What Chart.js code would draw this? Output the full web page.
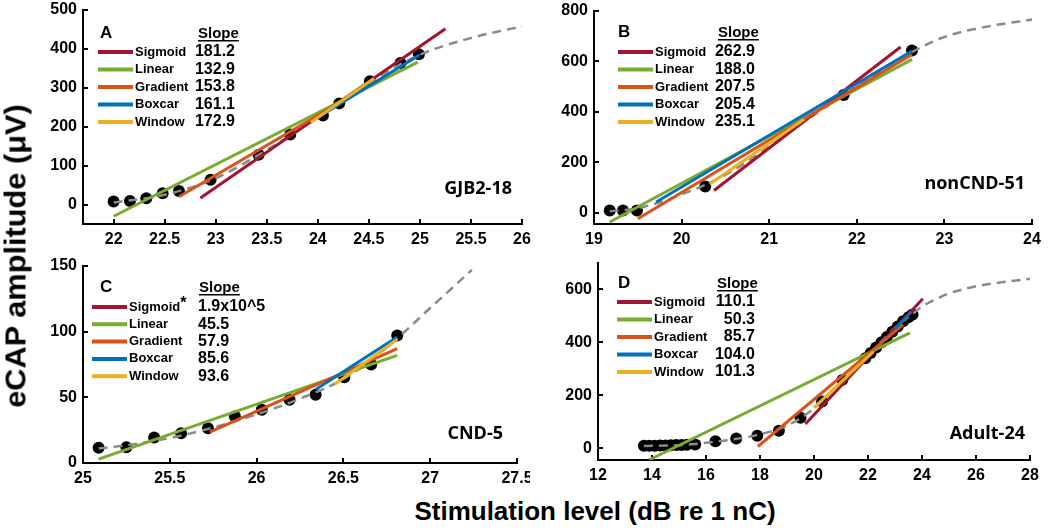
<!DOCTYPE html>
<html>
<head>
<meta charset="utf-8">
<script src="https://cdn.jsdelivr.net/npm/chart.js@4.4.0/dist/chart.umd.min.js"></script>
<style>
body{margin:0;background:#fff;width:1050px;height:530px;overflow:hidden;position:relative;font-family:"Liberation Sans",Arial,sans-serif}
canvas{position:absolute}
#ytitle{position:absolute;left:16px;top:256px;font-weight:bold;font-size:29px;white-space:nowrap;transform:translate(-50%,-50%) rotate(-90deg) scaleX(1.06)}
#xtitle{position:absolute;left:595px;top:498px;font-weight:bold;font-size:26px;line-height:26px;white-space:nowrap;transform:translateX(-50%)}
</style>
</head>
<body>
<canvas id="panelA" width="512" height="254" style="left:20px;top:0px"></canvas>
<canvas id="panelB" width="520" height="254" style="left:530px;top:0px"></canvas>
<canvas id="panelC" width="510" height="237" style="left:20px;top:256px"></canvas>
<canvas id="panelD" width="520" height="234" style="left:530px;top:256px"></canvas>
<div id="ytitle">eCAP amplitude (μV)</div>
<div id="xtitle">Stimulation level (dB re 1 nC)</div>
<script>
var methods = ['Sigmoid', 'Linear', 'Gradient', 'Boxcar', 'Window'];
var methodColors = ['#A2142F', '#77AC30', '#D95319', '#0072BD', '#EDB120'];

// A - GJB2-18
var levelA = [22.0, 22.16, 22.32, 22.48, 22.64, 22.95, 23.42, 23.73, 24.05, 24.21, 24.51, 24.81, 24.99];
var ampA = [8, 9, 16, 29, 35, 64, 128, 180, 229, 260, 317, 364, 386];
var curveLevelA = [22.0, 22.5, 23.0, 23.5, 24.0, 24.5, 25.0, 25.5, 26.0];
var curveAmpA = [5, 25, 68, 140, 224, 312, 385, 428, 458];
// fit segments: [start level, start amp, end level, end amp]
var fitsA = [[22.85, 17, 25.25, 452], [22.0, -30, 24.98, 366], [22.64, 20, 24.5, 306], [24.0, 224, 25.0, 385], [23.93, 211, 24.55, 324]];
var slopesA = ['181.2', '132.9', '153.8', '161.1', '172.9'];
var xTicksA = [22, 22.5, 23, 23.5, 24, 24.5, 25, 25.5, 26];
var yTicksA = [0, 100, 200, 300, 400, 500];

// B - nonCND-51
var levelB = [19.18, 19.33, 19.49, 20.27, 21.85, 22.63];
var ampB = [9, 9, 9, 104, 467, 643];
var curveLevelB = [19.18, 19.5, 20.0, 20.5, 21.0, 21.5, 22.0, 22.5, 23.0, 23.5, 24.0];
var curveAmpB = [6, 18, 72, 150, 262, 385, 500, 612, 697, 739, 766];
var fitsB = [[20.37, 88, 22.5, 657], [19.18, -37, 22.63, 608], [19.5, -24, 22.63, 628], [19.71, 42, 22.63, 641], [20.32, 114, 21.4, 371]];
var slopesB = ['262.9', '188.0', '207.5', '205.4', '235.1'];
var xTicksB = [19, 20, 21, 22, 23, 24];
var yTicksB = [0, 200, 400, 600, 800];

// C - CND-5
var levelC = [25.09, 25.25, 25.41, 25.565, 25.72, 25.875, 26.03, 26.19, 26.34, 26.505, 26.66, 26.81];
var ampC = [11.7, 12, 19.4, 22.7, 26.5, 35.5, 40.6, 48.2, 52, 65.3, 75, 97];
var curveLevelC = [25.09, 25.25, 25.5, 25.75, 26.0, 26.25, 26.5, 26.75, 27.0, 27.24];
var curveAmpC = [11, 13.5, 19, 27, 37, 49, 64, 88, 118, 147];
var fitsC = [null, [25.09, 3, 26.81, 82], [25.73, 23.5, 26.81, 87], [26.34, 56, 26.81, 96], [26.45, 60, 26.81, 94]];
var slopesC = ['1.9x10^5', '45.5', '57.9', '85.6', '93.6'];
var xTicksC = [25, 25.5, 26, 26.5, 27, 27.5];
var yTicksC = [0, 50, 100, 150];

// D - Adult-24
var levelD = [13.7, 13.9, 14.1, 14.3, 14.5, 14.7, 14.9, 15.1, 15.3, 15.6, 16.35, 17.12, 17.9, 18.7, 19.5, 20.3, 21.05, 21.9, 22.1, 22.3, 22.5, 22.7, 22.9, 23.1, 23.3, 23.5, 23.65];
var ampD = [9, 9, 9, 10, 10, 11, 12, 12, 13, 14, 26, 36, 47, 66, 115, 176, 258, 340, 360, 380, 400, 420, 440, 460, 480, 495, 505];
var curveLevelD = [13.7, 15, 16, 17, 18, 19, 20, 21, 22, 23, 23.7, 24, 24.5, 25, 25.5, 26, 27, 28];
var curveAmpD = [8, 11, 20, 33, 52, 85, 150, 250, 350, 455, 512, 535, 562, 585, 600, 612, 628, 640];
var fitsD = [[19.68, 91, 24.03, 565], [13.9, -44, 23.55, 436], [17.92, 6, 23.3, 467], [23.0, 452, 23.6, 514], [20.0, 153, 22.2, 365]];
var slopesD = ['110.1', '50.3', '85.7', '104.0', '101.3'];
var xTicksD = [12, 14, 16, 18, 20, 22, 24, 26, 28];
var yTicksD = [0, 200, 400, 600];

Chart.defaults.font.family = '"Liberation Sans", Arial, sans-serif';

var panelText = {
    id: 'panelText',
    afterDatasetsDraw: function(chart, args, p){
        var ctx = chart.ctx, a = chart.chartArea;
        ctx.save();
        ctx.fillStyle = '#000';
        ctx.textAlign = 'left';
        ctx.textBaseline = 'alphabetic';
        ctx.font = 'bold 17px "Liberation Sans", Arial';
        ctx.fillText(p.letter, a.left + p.letterX, a.top + p.headY);
        ctx.font = 'bold 15px "Liberation Sans", Arial';
        ctx.fillText('Slope', a.left + p.slopeX, a.top + p.headY);
        var sw = ctx.measureText('Slope').width;
        ctx.fillRect(a.left + p.slopeX, a.top + p.headY + 2, sw, 1.5);
        for(var i = 0; i < methods.length; i++){
            var y = a.top + p.rowY + i * p.rowGap;
            ctx.strokeStyle = methodColors[i];
            ctx.lineWidth = 4;
            ctx.beginPath();
            ctx.moveTo(a.left + p.lineX, y);
            ctx.lineTo(a.left + p.lineX + 35, y);
            ctx.stroke();
            ctx.textBaseline = 'middle';
            ctx.textAlign = 'left';
            ctx.font = 'bold 13px "Liberation Sans", Arial';
            ctx.fillText(methods[i], a.left + p.lineX + 37, y);
            if(i == 0 && p.star){
                var nw = ctx.measureText(methods[i]).width;
                ctx.font = 'bold 16px "Liberation Sans", Arial';
                ctx.textBaseline = 'alphabetic';
                ctx.fillText('*', a.left + p.lineX + 37 + nw, y + 1);
                ctx.textBaseline = 'middle';
            }
            ctx.font = 'bold 16px "Liberation Sans", Arial';
            ctx.textAlign = p.numAlign;
            ctx.fillText(p.slopes[i], a.left + p.numX, y);
        }
        ctx.font = 'bold 18px "Open Sans", sans-serif';
        ctx.textAlign = 'right';
        ctx.textBaseline = 'alphabetic';
        ctx.fillText(p.subject, a.right + p.subjX, a.bottom + p.subjY);
        ctx.restore();
    }
};

function axis(lim, ticks, dir){
    return {
        type: 'linear',
        min: lim[0],
        max: lim[1],
        border: {color: '#000', width: 2},
        grid: {drawOnChartArea: false, color: '#000', lineWidth: 2, tickLength: -5},
        ticks: {
            color: '#000',
            font: {weight: 'bold', size: 16},
            padding: 11,
            autoSkip: false,
            maxRotation: 0,
            callback: function(v){ return String(+v.toFixed(2)); }
        },
        afterBuildTicks: function(s){ s.ticks = ticks.map(function(v){ return {value: v}; }); },
        afterFit: function(s){
            if(dir == 'x') s.height = 28; else s.width = 55;
            s.paddingLeft = 0; s.paddingRight = 0; s.paddingTop = 0; s.paddingBottom = 0;
        }
    };
}

function makePanel(id, p){
    var datasets = [];
    for(var i = 0; i < methods.length; i++){
        var f = p.fits[i];
        datasets.push({
            label: methods[i],
            data: f ? [{x: f[0], y: f[1]}, {x: f[2], y: f[3]}] : [],
            showLine: true,
            borderColor: methodColors[i],
            borderWidth: 3,
            pointRadius: 0,
            order: 4 - i
        });
    }
    datasets.push({
        label: 'Sigmoid curve',
        data: p.curveX.map(function(x, k){ return {x: x, y: p.curveY[k]}; }),
        showLine: true,
        borderColor: '#8a8a8a',
        borderWidth: 2.5,
        borderDash: [9, 6],
        pointRadius: 0,
        cubicInterpolationMode: 'monotone',
        order: 5
    });
    datasets.push({
        label: 'eCAP',
        data: p.levels.map(function(x, k){ return {x: x, y: p.amps[k]}; }),
        pointRadius: 6,
        backgroundColor: '#000',
        borderWidth: 0,
        order: 6
    });
    new Chart(document.getElementById(id), {
        type: 'scatter',
        data: {datasets: datasets},
        options: {
            responsive: false,
            animation: false,
            layout: {padding: p.pad},
            plugins: {legend: {display: false}, tooltip: {enabled: false}, panelText: p},
            scales: {
                x: axis(p.xLim, p.xTicks, 'x'),
                y: axis(p.yLim, p.yTicks, 'y')
            }
        },
        plugins: [panelText]
    });
}

makePanel('panelA', {
    letter: 'A', subject: 'GJB2-18', slopes: slopesA, fits: fitsA,
    levels: levelA, amps: ampA, curveX: curveLevelA, curveY: curveAmpA,
    xLim: [21.7, 26], yLim: [-50, 500], xTicks: xTicksA, yTicks: yTicksA,
    pad: {left: 8, top: 10, right: 10, bottom: 2},
    letterX: 17, headY: 28, slopeX: 115, rowY: 42, rowGap: 17.5, lineX: 15, numX: 152, numAlign: 'right',
    subjX: -10, subjY: -30
});
makePanel('panelB', {
    letter: 'B', subject: 'nonCND-51', slopes: slopesB, fits: fitsB,
    levels: levelB, amps: ampB, curveX: curveLevelB, curveY: curveAmpB,
    xLim: [19, 24], yLim: [-45, 800], xTicks: xTicksB, yTicks: yTicksB,
    pad: {left: 9, top: 11, right: 18, bottom: 2},
    letterX: 24, headY: 26, slopeX: 124, rowY: 41, rowGap: 17.5, lineX: 24, numX: 161, numAlign: 'right',
    subjX: -7, subjY: -35
});
makePanel('panelC', {
    letter: 'C', subject: 'CND-5', slopes: slopesC, fits: fitsC, star: true,
    levels: levelC, amps: ampC, curveX: curveLevelC, curveY: curveAmpC,
    xLim: [25, 27.5], yLim: [0, 150], xTicks: xTicksC, yTicks: yTicksC,
    pad: {left: 8, top: 10, right: 13, bottom: 2},
    letterX: 17, headY: 26, slopeX: 116, rowY: 41, rowGap: 17.3, lineX: 9, numX: 115, numAlign: 'left',
    subjX: -14, subjY: -24
});
makePanel('panelD', {
    letter: 'D', subject: 'Adult-24', slopes: slopesD, fits: fitsD,
    levels: levelD, amps: ampD, curveX: curveLevelD, curveY: curveAmpD,
    xLim: [12, 28], yLim: [-45, 700], xTicks: xTicksD, yTicks: yTicksD,
    pad: {left: 13, top: 7, right: 20, bottom: 2},
    letterX: 20, headY: 25, slopeX: 119, rowY: 39, rowGap: 17.5, lineX: 19, numX: 157, numAlign: 'right',
    subjX: -5, subjY: -21
});
</script>
</body>
</html>
